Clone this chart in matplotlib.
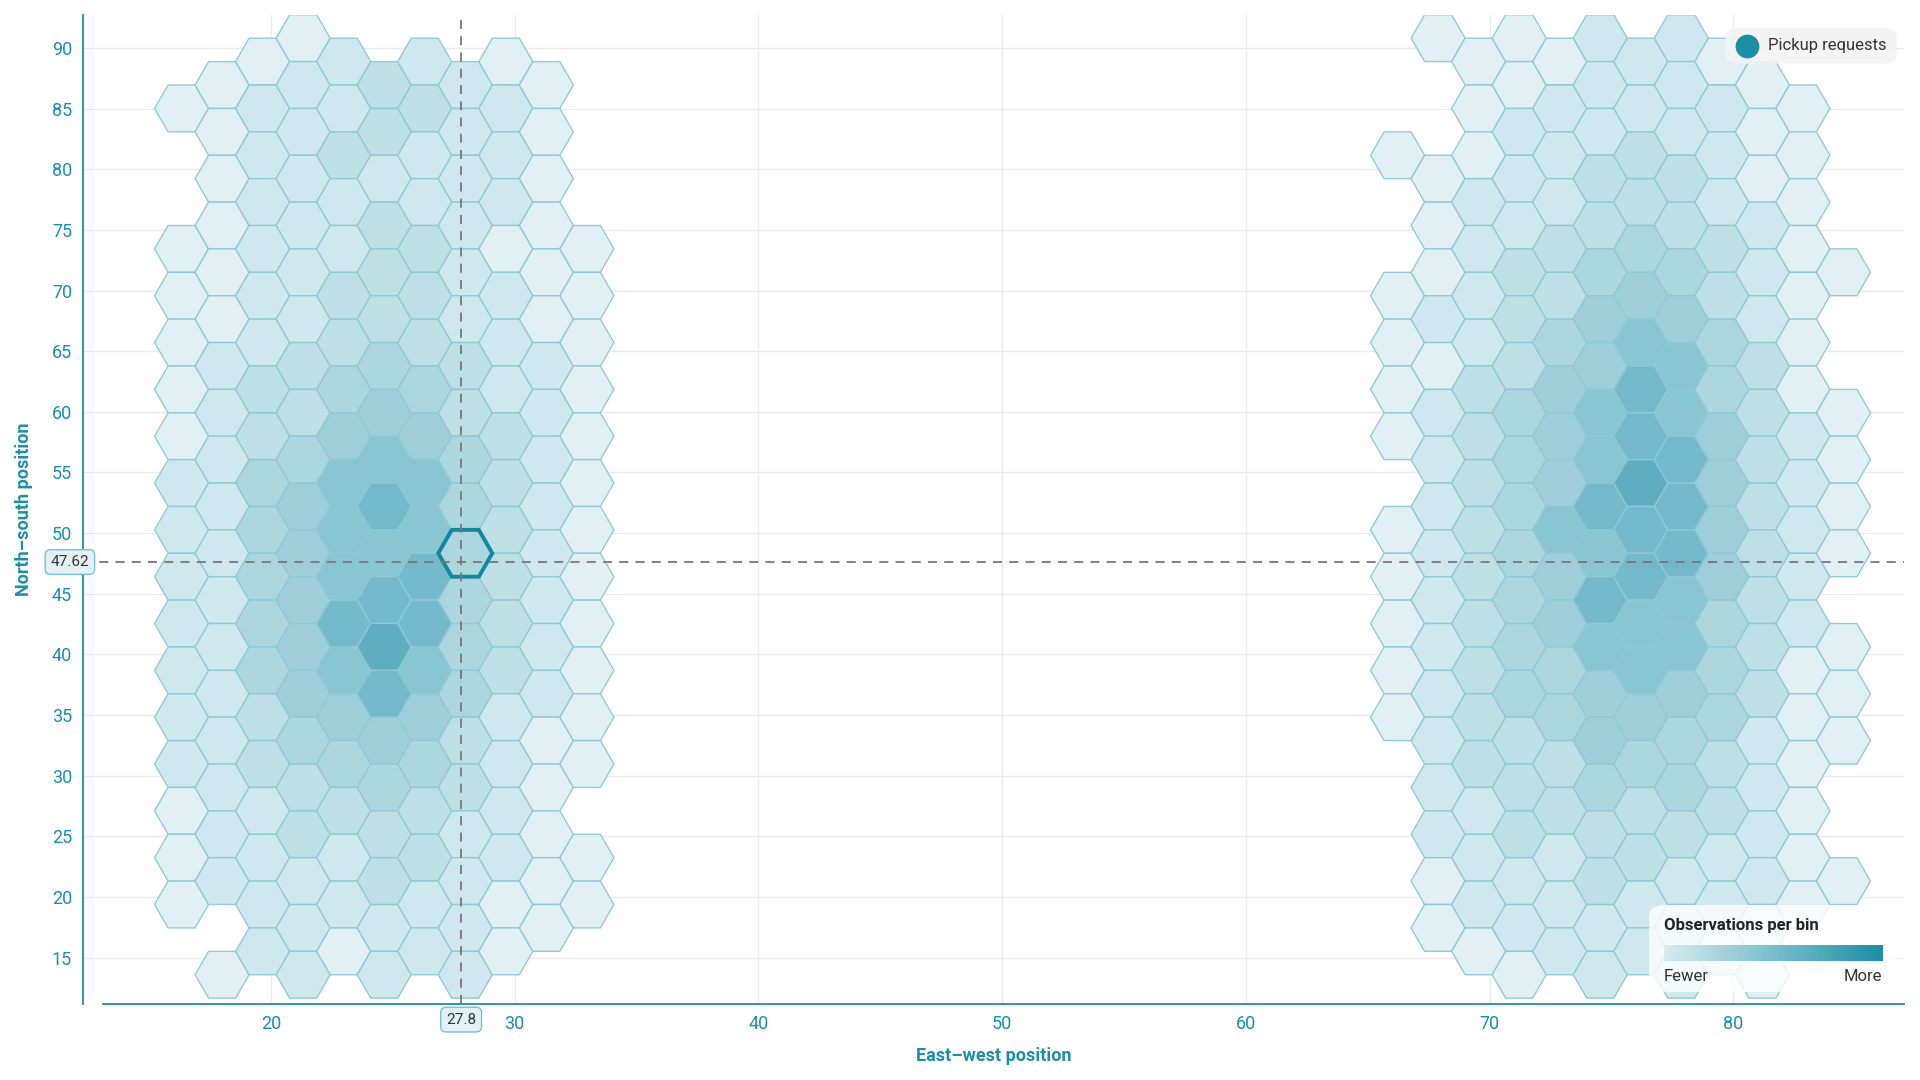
import numpy as np
import matplotlib
matplotlib.use("Agg")
import matplotlib.pyplot as plt
from matplotlib.collections import PolyCollection
from matplotlib.colors import LinearSegmentedColormap
from matplotlib.patches import Polygon, FancyBboxPatch

plt.rcParams['font.family'] = ['Roboto', 'DejaVu Sans']

# hex grid geometry (flat-top): column spacing and half-row spacing in data units
col_x0 = 16.33
col_dx = 1.663
row_y0 = 90.8
row_dy = 1.93

# Observation levels per column (top to bottom over valid slots), '.' = empty bin
left_cols = {
    0: ".1..111112222222111.",
    1: ".111111222222222222.1",
    2: "12222223344444332222",
    3: "122222233455555433222",
    4: "22322334566676543221",
    5: ".33233345676787543322",
    6: "23223334566776543322",
    7: ".22222233444444332222",
    8: "12221222333333222211",
    9: ".1111112222222211111.",
    10: "....111111111111.11.",
}
right_cols = {
    30: "..1..1111.11111.....",
    31: "1..11121222222222211.",
    32: "11122223333333332221",
    33: "112223334444444333221",
    34: "12223345556554433222",
    35: "222334556676765543322",
    36: "22334567787766543322",
    37: "222334566777665443222",
    38: "12223344555544433221",
    39: ".11122233333333222211",
    40: ".111111122222111111.",
    41: ".....1..1111.111..1..",
}
highlight_col, highlight_slot = 7, 22
cross_x, cross_y = 27.8, 47.62
x_ticks = [20, 30, 40, 50, 60, 70, 80]
y_ticks = [15, 20, 25, 30, 35, 40, 45, 50, 55, 60, 65, 70, 75, 80, 85, 90]

TEAL = '#1a8fa6'
R = col_dx / 0.75 / 2
H = row_dy

def hex_verts(cx, cy):
    return [(cx + R, cy), (cx + R / 2, cy + H), (cx - R / 2, cy + H),
            (cx - R, cy), (cx - R / 2, cy - H), (cx + R / 2, cy - H)]

verts, levels = [], []
for cols in (left_cols, right_cols):
    for i, s in cols.items():
        start = 1 if i % 2 == 0 else 0
        for k, ch in enumerate(s):
            if ch == '.':
                continue
            j = start + 2 * k
            verts.append(hex_verts(col_x0 + i * col_dx, row_y0 - j * row_dy))
            levels.append(int(ch))

fig = plt.figure(figsize=(19.2, 10.8), dpi=100)
ax = fig.add_axes([0.0434, 0.0705, 0.9483, 0.9155])
ax.set_xlim(12.3, 87.0)
ax.set_ylim(11.2, 92.7)

cmap = LinearSegmentedColormap.from_list('t', ['#dff0f3', '#b5dbe3', '#8cc6d3', '#55aabd'])
pc = PolyCollection(verts, array=np.array(levels, float), cmap=cmap,
                    edgecolors='#8fc9d5', linewidths=1.0, alpha=0.95, zorder=2)
pc.set_clim(1, 8)
ax.add_collection(pc)

hx = col_x0 + highlight_col * col_dx
hy = row_y0 - highlight_slot * row_dy
ax.add_patch(Polygon(hex_verts(hx, hy), closed=True, fill=False,
                     edgecolor='#12879e', linewidth=2.8, zorder=4))

ax.axvline(cross_x, color='#777777', ls=(0, (5, 4)), lw=1.3, zorder=5)
ax.axhline(cross_y, color='#777777', ls=(0, (5, 4)), lw=1.3, zorder=5)

ax.set_xticks(x_ticks)
ax.set_yticks(y_ticks)
ax.grid(True, color='#ebebeb', lw=1, zorder=0)
ax.set_axisbelow(True)
for s in ['top', 'right']:
    ax.spines[s].set_visible(False)
for s in ['left', 'bottom']:
    ax.spines[s].set_color(TEAL)
    ax.spines[s].set_linewidth(1.3)
ax.spines['bottom'].set_bounds(13.1, 87.0)
ax.tick_params(colors=TEAL, labelsize=13, length=0, pad=8)
ax.set_xlabel('East\u2013west position', color=TEAL, fontsize=13, fontweight='bold', labelpad=10)
ax.set_ylabel('North\u2013south position', color=TEAL, fontsize=13, fontweight='bold', labelpad=14)

box = dict(boxstyle='round,pad=0.35', fc='#e3f1f4', ec='#7cbfcd', lw=1)
ax.text(cross_x, 9.9, f'{cross_x}', ha='center', va='center', fontsize=11,
        color='#333333', bbox=box, clip_on=False, zorder=6)
ax.text(11.75, cross_y, f'{cross_y}', ha='center', va='center', fontsize=11,
        color='#333333', bbox=box, clip_on=False, zorder=6)

# legend top-right
ax.add_patch(FancyBboxPatch((0.905, 0.954), 0.088, 0.03, boxstyle='round,pad=0.003,rounding_size=0.008',
                            transform=ax.transAxes, fc='#f3f3f3', ec='none', alpha=0.9, zorder=6,
                            clip_on=False))
ax.scatter([0.914], [0.969], s=260, color=TEAL, transform=ax.transAxes, zorder=7, clip_on=False)
ax.text(0.925, 0.969, 'Pickup requests', transform=ax.transAxes, va='center', fontsize=12,
        color='#333333', zorder=7)

# colour legend bottom-right
ax.add_patch(FancyBboxPatch((0.864, 0.016), 0.128, 0.08, boxstyle='round,pad=0.004,rounding_size=0.01',
                            transform=ax.transAxes, fc='white', ec='none', alpha=0.8, zorder=6))
ax.text(0.868, 0.079, 'Observations per bin', transform=ax.transAxes, fontsize=12,
        fontweight='bold', color='#222222', va='center', zorder=7)
cax = fig.add_axes([0.0434 + 0.9483 * 0.868, 0.0705 + 0.9155 * 0.043, 0.9483 * 0.12, 0.0155])
grad = np.linspace(0, 1, 256)[None, :]
cax.imshow(grad, aspect='auto', cmap=LinearSegmentedColormap.from_list('g', ['#d8ecf0', '#1a8fa6']))
cax.set_axis_off()
ax.text(0.868, 0.028, 'Fewer', transform=ax.transAxes, fontsize=12, color='#333333', va='center', zorder=7)
ax.text(0.988, 0.028, 'More', transform=ax.transAxes, fontsize=12, color='#333333', va='center',
        ha='right', zorder=7)

fig.savefig('out.png', dpi=100, facecolor='white')
